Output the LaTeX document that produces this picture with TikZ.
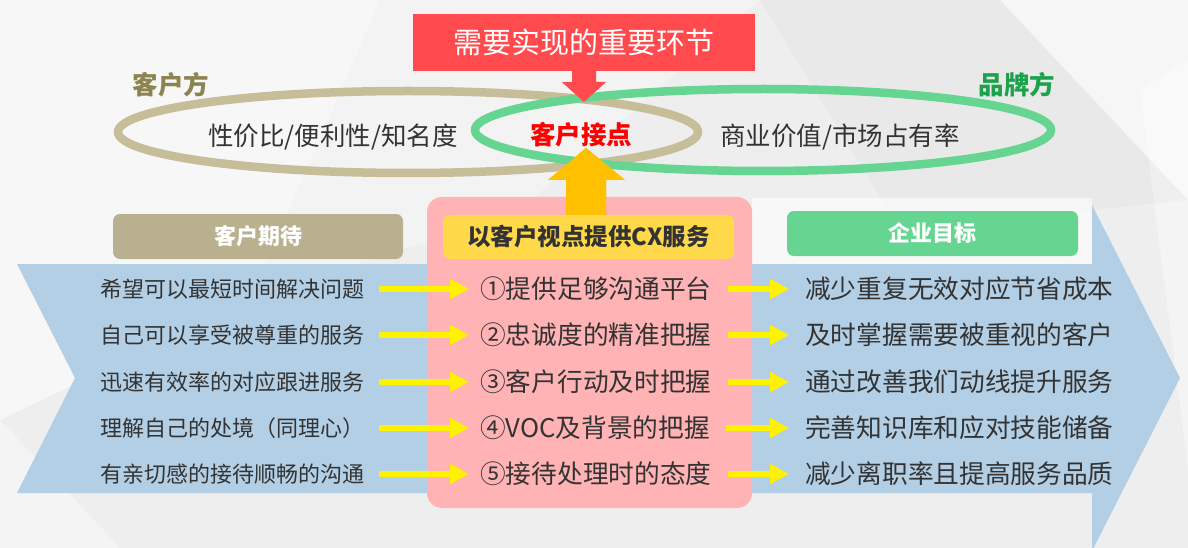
\documentclass[tikz,border=0pt]{standalone}
\usepackage{fontspec}
\setmainfont{Noto Sans CJK SC}
\usetikzlibrary{shapes.geometric,arrows.meta}
\definecolor{bgc}{HTML}{EEEEEF}
\definecolor{bandblue}{HTML}{B3CFE5}
\definecolor{redbox}{HTML}{FF4A4E}
\definecolor{tanline}{HTML}{C6BD99}
\definecolor{tanbox}{HTML}{B8B08E}
\definecolor{tantext}{HTML}{8C8450}
\definecolor{greenline}{HTML}{66D592}
\definecolor{greenbox}{HTML}{66D592}
\definecolor{greentext}{HTML}{1BA34C}
\definecolor{pinkbox}{HTML}{FFB3B4}
\definecolor{ylabel}{HTML}{FFD94A}
\definecolor{orangearrow}{HTML}{FFC000}
\definecolor{txt}{HTML}{333333}
\newcommand\myfs[1]{\fontsize{#1pt}{#1pt}\selectfont}
\begin{document}
\begin{tikzpicture}[x=1pt,y=-1pt,
  ltext/.style={anchor=west,inner sep=0pt,text=txt,font=\myfs{22}},
  mtext/.style={anchor=west,inner sep=0pt,text=txt,font=\myfs{25.7}},
  rtext/.style={anchor=west,inner sep=0pt,text=txt,font=\myfs{25.7}},
  yarr/.style={draw=yellow,line width=6pt,-{Triangle[width=19pt,length=19pt]}},
  labelbox/.style={rounded corners=7pt,inner sep=0pt,font=\bfseries\myfs{22}},
  ring/.style={ellipse,draw,line width=8.5pt,inner sep=0pt}]
\useasboundingbox (0,0) rectangle (1188,548);
\clip (0,0) rectangle (1188,548);
% background
\fill[bgc] (0,0) rectangle (1188,548);
\fill[white,opacity=0.55] (0,0) -- (380,0) -- (250,300) -- (0,420) -- cycle;
\fill[white,opacity=0.35] (380,0) -- (760,0) -- (520,210) -- (250,300) -- cycle;
\fill[white,opacity=0.5] (1000,0) -- (1188,0) -- (1188,200) -- cycle;
\fill[white,opacity=0.4] (1140,90) -- (1188,60) -- (1188,470) -- cycle;
\fill[white,opacity=0.4] (0,420) -- (120,548) -- (0,548) -- cycle;
\fill[black,opacity=0.02] (760,0) -- (1000,0) -- (1188,200) -- (900,230) -- cycle;
% blue band arrow
\fill[bandblue] (17,264) -- (1092,264) -- (1092,205) -- (1180,378) -- (1092,551)
  -- (1092,493) -- (17,493) -- (75,378) -- cycle;
\fill[white,opacity=0.6] (752,198) rectangle (1092,264);
% pink box
\node[fill=pinkbox,rounded corners=15pt,minimum width=325pt,minimum height=311pt,inner sep=0pt]
  (pink) at (589.5,352.5) {};
% orange up arrow
\fill[orangearrow] (566,216) -- (566,180) -- (548,180) -- (586,148) -- (625,180)
  -- (606,180) -- (606,216) -- cycle;
% labels
\node[labelbox,fill=ylabel,text=txt,minimum width=291pt,minimum height=44pt,font=\bfseries\myfs{23.5}]
  (cxl) at (588.5,237) {以客户视点提供CX服务};
\node[labelbox,fill=tanbox,text=white,minimum width=290pt,minimum height=45pt]
  (tanl) at (258,236.5) {客户期待};
\node[labelbox,fill=greenbox,text=white,minimum width=291pt,minimum height=45pt]
  (greenl) at (932.5,233.5) {企业目标};
% rings
\node[ring,draw=tanline,minimum width=580pt,minimum height=82pt] (tanE) at (408,132) {};
\node[ring,draw=greenline,minimum width=576pt,minimum height=82pt] (greenE) at (763,130) {};
% redraw arrow head over rings
\fill[orangearrow] (566,200) -- (566,180) -- (548,180) -- (586,148) -- (625,180)
  -- (606,180) -- (606,200) -- cycle;
% title box and red arrow
\node[fill=redbox,text=white,minimum width=342pt,minimum height=57pt,inner sep=0pt,font=\myfs{29}]
  (title) at (584,42.5) {需要实现的重要环节};
\fill[redbox] ([xshift=-12pt]title.south) -- ++(0,11) -- ++(-10,0) -- (584,102)
  -- ++(22,-20) -- ++(-10,0) -- ([xshift=12pt]title.south) -- cycle;
% ring texts
\node[text=tantext,font=\bfseries\myfs{25.5},inner sep=0pt] (kehu) at (171,85) {客户方};
\node[text=greentext,font=\bfseries\myfs{25.5},inner sep=0pt] (pinpai) at (1017,85) {品牌方};
\node[text=txt,font=\myfs{25.5},inner sep=0pt] (lt) at (333,137) {性价比/便利性/知名度};
\node[text=red,font=\bfseries\myfs{25.5},inner sep=0pt] (touch) at (581,135) {客户接点};
\node[text=txt,font=\myfs{25.5},inner sep=0pt] (rt) at (840,137) {商业价值/市场占有率};
% rows
\foreach \i/\yy/\l/\m/\r in {
 1/289/希望可以最短时间解决问题/①提供足够沟通平台/减少重复无效对应节省成本,
 2/335/自己可以享受被尊重的服务/②忠诚度的精准把握/及时掌握需要被重视的客户,
 3/382/迅速有效率的对应跟进服务/③客户行动及时把握/通过改善我们动线提升服务,
 4/428/理解自己的处境（同理心）/④VOC及背景的把握/完善知识库和应对技能储备,
 5/474/有亲切感的接待顺畅的沟通/⑤接待处理时的态度/减少离职率且提高服务品质}{
  \node[ltext] (l\i) at (100,\yy) {\l};
  \node[mtext] (m\i) at (480,\yy) {\m};
  \node[rtext] (r\i) at (805,\yy) {\r};
  \coordinate (aL\i) at (379,\yy);
  \draw[yarr] (aL\i) -- ([xshift=-11pt]m\i.west);
  \draw[yarr] ([xshift=16pt]m\i.east) -- ([xshift=-16pt]r\i.west);
}
\end{tikzpicture}
\end{document}
